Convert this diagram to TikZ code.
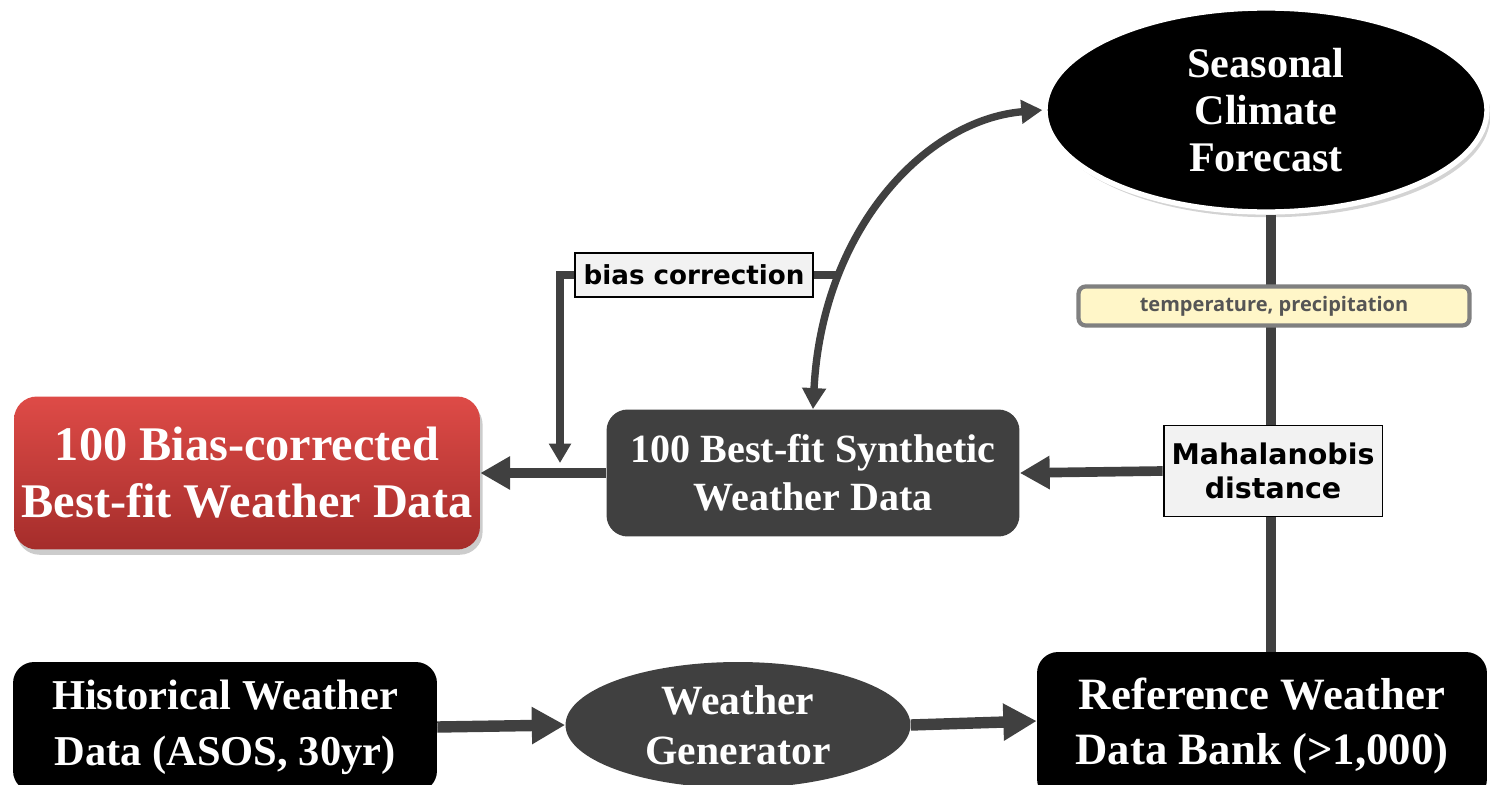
\documentclass[tikz,border=0pt]{standalone}
\usepackage{fontspec}
\setmainfont{Liberation Serif}
\newfontfamily\labelfont{DejaVu Sans}
\newfontfamily\tagfont{Open Sans}
\usetikzlibrary{arrows.meta,shapes.geometric,shadows}

\definecolor{linegray}{HTML}{404040}
\definecolor{boxgray}{HTML}{404040}
\definecolor{tagfill}{HTML}{FFF6C8}
\definecolor{tagedge}{HTML}{808080}
\definecolor{tagtext}{HTML}{555555}
\definecolor{notefill}{HTML}{F2F2F2}
\definecolor{redtop}{HTML}{DE4B47}
\definecolor{redbot}{HTML}{A52D2B}

\tikzset{
  serifwhite/.style={text=white, font=\bfseries\fontsize{23}{27}\selectfont, align=center},
  darkbox/.style={serifwhite, rectangle, rounded corners=12pt, fill=boxgray, inner sep=0pt},
  blackbox/.style={serifwhite, rectangle, rounded corners=12pt, fill=black, inner sep=0pt},
  notebox/.style={rectangle, draw=black, line width=1.1pt, fill=notefill, inner sep=0pt,
    font=\labelfont\bfseries\fontsize{16.2}{19}\selectfont, align=center},
  tagbox/.style={rectangle, rounded corners=4pt, draw=tagedge, line width=2.4pt, fill=tagfill,
    inner sep=0pt, text=tagtext, font=\tagfont\bfseries\fontsize{11.4}{13}\selectfont},
  bigarrow/.style={draw=linegray, line width=6.5pt, -{Triangle[length=19pt,width=20pt]}, fill=linegray},
  midarrow/.style={draw=linegray, line width=5.5pt, -{Triangle[length=17pt,width=18pt]}, fill=linegray},
  plainline/.style={draw=linegray, line width=5.7pt},
  thinline/.style={draw=linegray, line width=4.2pt},
  curvearrow/.style={draw=linegray, line width=4.2pt,
    {Triangle[length=12pt,width=13pt]}-{Triangle[length=12pt,width=13pt]}},
  droparrow/.style={draw=linegray, line width=4.2pt, -{Triangle[length=11pt,width=12pt]}}
}

\begin{document}
\begin{tikzpicture}[x=0.02cm, y=-0.02cm]
  \useasboundingbox (0,0) rectangle (1490,784);

  % main blocks
  \node[ellipse, fill=black, draw=white, line width=3pt, minimum width=8.84cm, minimum height=4.08cm,
        serifwhite, font=\bfseries\fontsize{24}{26.7}\selectfont,
        drop shadow={shadow xshift=2pt, shadow yshift=-3pt, opacity=0.35}]
        (sc) at (1266,110) {Seasonal\\Climate\\Forecast};

  \node[rectangle, rounded corners=13pt, top color=redtop, bottom color=redbot, inner sep=0pt,
        minimum width=9.32cm, minimum height=3.06cm,
        serifwhite, font=\bfseries\fontsize{27.5}{32.4}\selectfont,
        drop shadow={shadow xshift=1.5pt, shadow yshift=-3pt, opacity=0.4}]
        (red) at (247,473) {100 Bias-corrected\\Best-fit Weather Data};

  \node[darkbox, minimum width=8.26cm, minimum height=2.54cm,
        font=\bfseries\fontsize{22.8}{27.3}\selectfont]
        (syn) at (813,473) {100 Best-fit Synthetic\\Weather Data};

  \node[blackbox, minimum width=8.48cm, minimum height=2.6cm,
        font=\bfseries\fontsize{24.2}{32}\selectfont]
        (hist) at (225,727) {Historical Weather\\Data (ASOS, 30yr)};

  \node[ellipse, fill=boxgray, minimum width=6.9cm, minimum height=2.52cm, inner sep=0pt,
        serifwhite, font=\bfseries\fontsize{23.7}{28.5}\selectfont]
        (gen) at (738,725) {Weather\\Generator};

  \node[blackbox, minimum width=9.0cm, minimum height=2.96cm,
        font=\bfseries\fontsize{25.5}{31.3}\selectfont]
        (ref) at (1262,726) {Reference Weather\\Data Bank (>1,000)};

  % vertical link from the forecast to the data bank
  \draw[plainline] ([xshift=0.1cm]sc.south) -- ([xshift=0.1cm]sc.south |- ref.north);

  % labels on the links
  \node[tagbox, minimum width=7.82cm, minimum height=0.78cm] (tag) at (1274,306)
        {temperature, precipitation};
  \node[notebox, minimum width=4.38cm, minimum height=1.82cm] (maha) at (1273,471)
        {Mahalanobis\\distance};
  \node[notebox, font=\labelfont\bfseries\fontsize{14.9}{17}\selectfont,
        minimum width=4.76cm, minimum height=0.88cm] (bias) at (694,275) {bias correction};

  % connectors
  \draw[bigarrow] (hist.east) -- (gen.west);
  \draw[bigarrow] (gen.east) -- ([yshift=0.1cm]ref.west);
  \draw[midarrow] (maha.west) -- (syn.east);
  \draw[midarrow] (syn.west) -- (red.east);

  \draw[curvearrow] (syn.north) .. controls (822,230) and (925,120) .. (sc.west);

  \coordinate (j) at (840,275);
  \coordinate (drop) at (560,463);
  \draw[thinline] (j) -- (bias.east);
  \draw[droparrow] (bias.west) -| (drop);
\end{tikzpicture}
\end{document}
